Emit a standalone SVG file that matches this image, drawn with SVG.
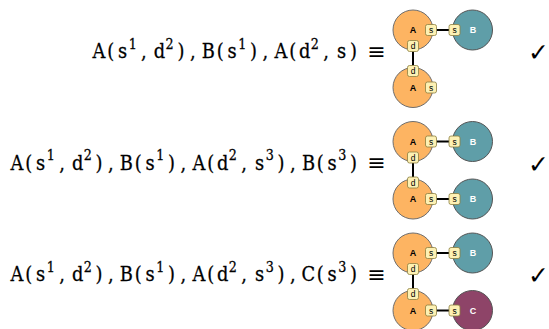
<svg xmlns="http://www.w3.org/2000/svg" width="549" height="329" viewBox="0 0 549 329">
<style>
.f{font-family:'DejaVu Serif','Liberation Serif',serif;font-size:21px;fill:#000;stroke:#000;stroke-width:0.3;text-anchor:middle}
.sup{font-size:15px}
.eq{font-family:'DejaVu Sans',sans-serif;font-size:22px;fill:#000;text-anchor:middle}
.ck{font-family:'DejaVu Sans',sans-serif;font-size:25px;fill:#000;text-anchor:middle}
.na{fill:#fdb462;stroke:#6e6e6e;stroke-width:1}
.nb{fill:#5f9ea8;stroke:#555;stroke-width:1}
.nc{fill:#8e4468;stroke:#555;stroke-width:1}
.lab{font-family:'Liberation Sans',Arial,sans-serif;font-size:9px;font-weight:bold;text-anchor:middle}
.lk{fill:#000}
.lw{fill:#fff}
.port rect{fill:#fdf1b4;stroke:#8c7f40;stroke-width:0.8}
.pt{font-family:'Liberation Sans',Arial,sans-serif;font-size:8.5px;text-anchor:middle;fill:#000}
.link{stroke:#000;stroke-width:2;fill:none}
</style>
<rect width="549" height="329" fill="#fff"/>

<g id="formulas" transform="scale(0.85,1)">
<text class="f" y="58.5"><tspan x="116.39 130.35 144.31">A(s</tspan><tspan class="sup" x="156.18" y="49">1</tspan><tspan x="169.38 187.76" y="58.5">,d</tspan><tspan class="sup" x="199.64" y="49">2</tspan><tspan x="212.84 226.8 245.19 259.15 273.11" y="58.5">),B(s</tspan><tspan class="sup" x="284.98" y="49">1</tspan><tspan x="298.18 312.13 330.53 344.48 358.45" y="58.5">),A(d</tspan><tspan class="sup" x="370.31" y="49">2</tspan><tspan x="383.51 401.91 415.86" y="58.5">,s)</tspan></text>
<text class="f" y="170"><tspan x="19.95 33.92 47.87">A(s</tspan><tspan class="sup" x="59.74" y="160.5">1</tspan><tspan x="72.94 91.34" y="170">,d</tspan><tspan class="sup" x="103.2" y="160.5">2</tspan><tspan x="116.4 130.36 148.75 162.72 176.67" y="170">),B(s</tspan><tspan class="sup" x="188.54" y="160.5">1</tspan><tspan x="201.74 215.69 234.09 248.05 262.01" y="170">),A(d</tspan><tspan class="sup" x="273.87" y="160.5">2</tspan><tspan x="287.07 305.47" y="170">,s</tspan><tspan class="sup" x="317.33" y="160.5">3</tspan><tspan x="330.53 344.49 362.88 376.85 390.8" y="170">),B(s</tspan><tspan class="sup" x="402.67" y="160.5">3</tspan><tspan x="415.87" y="170">)</tspan></text>
<text class="f" y="281.5"><tspan x="19.95 33.92 47.87">A(s</tspan><tspan class="sup" x="59.74" y="272">1</tspan><tspan x="72.94 91.34" y="281.5">,d</tspan><tspan class="sup" x="103.2" y="272">2</tspan><tspan x="116.4 130.36 148.75 162.72 176.67" y="281.5">),B(s</tspan><tspan class="sup" x="188.54" y="272">1</tspan><tspan x="201.74 215.69 234.09 248.05 262.01" y="281.5">),A(d</tspan><tspan class="sup" x="273.87" y="272">2</tspan><tspan x="287.07 305.47" y="281.5">,s</tspan><tspan class="sup" x="317.33" y="272">3</tspan><tspan x="330.53 344.49 362.88 376.85 390.8" y="281.5">),C(s</tspan><tspan class="sup" x="402.67" y="272">3</tspan><tspan x="415.87" y="281.5">)</tspan></text>
</g>
<text class="eq" x="376.5" y="58.5">≡</text>
<text class="eq" x="376.5" y="170">≡</text>
<text class="eq" x="376.5" y="281.5">≡</text>
<text class="ck" x="538.5" y="61">✓</text>
<text class="ck" x="538.5" y="172.5">✓</text>
<text class="ck" x="538.5" y="284">✓</text>

<g id="connectors">
<line class="link" x1="436.5" y1="30" x2="449" y2="30"/>
<line class="link" x1="413" y1="51.5" x2="413" y2="65.5"/>
<line class="link" x1="436.5" y1="141.5" x2="449" y2="141.5"/>
<line class="link" x1="413" y1="163" x2="413" y2="177"/>
<line class="link" x1="436.5" y1="199" x2="449" y2="199"/>
<line class="link" x1="436.5" y1="253" x2="449" y2="253"/>
<line class="link" x1="413" y1="274.5" x2="413" y2="288.5"/>
<line class="link" x1="436.5" y1="310.5" x2="449" y2="310.5"/>
</g>

<g id="r1-a1">
<circle class="na" cx="413" cy="30" r="20"/>
<text class="lab lk" x="413" y="33.2">A</text>
<g class="port"><rect x="425.5" y="24.5" width="11" height="11" rx="2"/><text class="pt" x="431" y="33">s</text></g>
<g class="port"><rect x="407.5" y="40.5" width="11" height="11" rx="2"/><text class="pt" x="413" y="49">d</text></g>
</g>
<g id="r1-b1">
<circle class="nb" cx="472.5" cy="30" r="20"/>
<text class="lab lw" x="473" y="33.2">B</text>
<g class="port"><rect x="449" y="24.5" width="11" height="11" rx="2"/><text class="pt" x="454.5" y="33">s</text></g>
</g>
<g id="r1-a2">
<circle class="na" cx="413" cy="87.5" r="20"/>
<text class="lab lk" x="413" y="90.7">A</text>
<g class="port"><rect x="425.5" y="82" width="11" height="11" rx="2"/><text class="pt" x="431" y="90.5">s</text></g>
<g class="port"><rect x="407.5" y="65.5" width="11" height="11" rx="2"/><text class="pt" x="413" y="74">d</text></g>
</g>

<g id="r2-a1">
<circle class="na" cx="413" cy="141.5" r="20"/>
<text class="lab lk" x="413" y="144.7">A</text>
<g class="port"><rect x="425.5" y="136" width="11" height="11" rx="2"/><text class="pt" x="431" y="144.5">s</text></g>
<g class="port"><rect x="407.5" y="152" width="11" height="11" rx="2"/><text class="pt" x="413" y="160.5">d</text></g>
</g>
<g id="r2-b1">
<circle class="nb" cx="472.5" cy="141.5" r="20"/>
<text class="lab lw" x="473" y="144.7">B</text>
<g class="port"><rect x="449" y="136" width="11" height="11" rx="2"/><text class="pt" x="454.5" y="144.5">s</text></g>
</g>
<g id="r2-a2">
<circle class="na" cx="413" cy="199" r="20"/>
<text class="lab lk" x="413" y="202.2">A</text>
<g class="port"><rect x="425.5" y="193.5" width="11" height="11" rx="2"/><text class="pt" x="431" y="202">s</text></g>
<g class="port"><rect x="407.5" y="177" width="11" height="11" rx="2"/><text class="pt" x="413" y="185.5">d</text></g>
</g>
<g id="r2-b2">
<circle class="nb" cx="472.5" cy="199" r="20"/>
<text class="lab lw" x="473" y="202.2">B</text>
<g class="port"><rect x="449" y="193.5" width="11" height="11" rx="2"/><text class="pt" x="454.5" y="202">s</text></g>
</g>

<g id="r3-a1">
<circle class="na" cx="413" cy="253" r="20"/>
<text class="lab lk" x="413" y="256.2">A</text>
<g class="port"><rect x="425.5" y="247.5" width="11" height="11" rx="2"/><text class="pt" x="431" y="256">s</text></g>
<g class="port"><rect x="407.5" y="263.5" width="11" height="11" rx="2"/><text class="pt" x="413" y="272">d</text></g>
</g>
<g id="r3-b1">
<circle class="nb" cx="472.5" cy="253" r="20"/>
<text class="lab lw" x="473" y="256.2">B</text>
<g class="port"><rect x="449" y="247.5" width="11" height="11" rx="2"/><text class="pt" x="454.5" y="256">s</text></g>
</g>
<g id="r3-a2">
<circle class="na" cx="413" cy="310.5" r="20"/>
<text class="lab lk" x="413" y="313.7">A</text>
<g class="port"><rect x="425.5" y="305" width="11" height="11" rx="2"/><text class="pt" x="431" y="313.5">s</text></g>
<g class="port"><rect x="407.5" y="288.5" width="11" height="11" rx="2"/><text class="pt" x="413" y="297">d</text></g>
</g>
<g id="r3-c1">
<circle class="nc" cx="472.5" cy="310.5" r="20"/>
<text class="lab lw" x="473" y="313.7">C</text>
<g class="port"><rect x="449" y="305" width="11" height="11" rx="2"/><text class="pt" x="454.5" y="313.5">s</text></g>
</g>
</svg>
